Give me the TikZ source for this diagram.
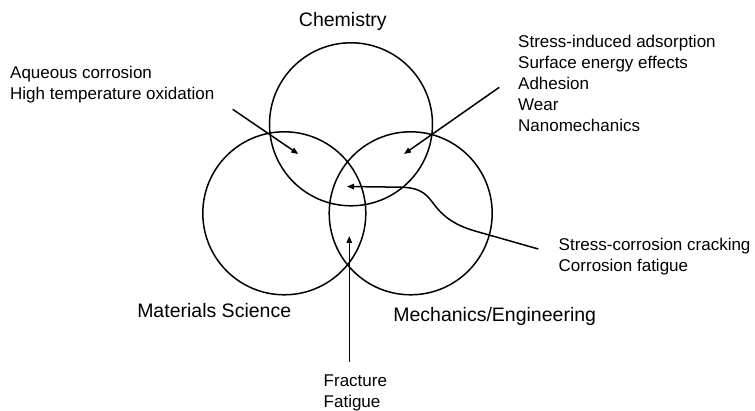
\documentclass[tikz,border=0pt]{standalone}
\usepackage{fontspec}
\setmainfont{Liberation Sans}
\usetikzlibrary{arrows.meta}
\begin{document}
\begin{tikzpicture}[x=1pt,y=-1pt,
  ring/.style={circle,draw,line width=1.5pt,inner sep=0pt,minimum size=163pt},
  pointer/.style={line width=1.5pt,-{Triangle[length=7pt,width=5.5pt]}},
  field/.style={inner sep=0pt,anchor=base,font=\fontsize{19.5}{23}\selectfont},
  note/.style={inner sep=0pt,anchor=base west,align=left,font=\fontsize{17}{21.2}\selectfont}]
\useasboundingbox (0,0) rectangle (755,411);
% circles
\node[ring] (chem) at (351,124.3) {};
\node[ring] (mat) at (284.3,213.3) {};
\node[ring] (mech) at (410.7,213.3) {};
% field titles
\node[field] (tchem) at (342.8,26.7) {Chemistry};
\node[field] (tmat) at (214.2,317.3) {Materials Science};
\node[field] (tmech) at (494.7,321.7) {Mechanics/Engineering};
% notes (anchored at the baseline of their last line)
\node[note] (nleft) at (10,99.6) {Aqueous corrosion\\High temperature oxidation};
\node[note] (nright) at (518,132) {Stress-induced adsorption\\Surface energy effects\\Adhesion\\Wear\\Nanomechanics};
\node[note] (nscc) at (558.5,271.9) {Stress-corrosion cracking\\Corrosion fatigue};
\node[note] (nfrac) at (323.5,407.5) {Fracture\\Fatigue};
% arrow end points
\coordinate (a1s) at (232.7,109.3);
\coordinate (a1e) at (298.3,154);
\coordinate (a2s) at (499.3,87.3);
\coordinate (a2e) at (404,154);
\coordinate (a3s) at (349.3,361.7);
\coordinate (a3e) at (349.3,236);
\coordinate (a4s) at (538.3,249);
\coordinate (a4e) at (347,186.5);
\draw[pointer] (a1s) -- (a1e);
\draw[pointer] (a2s) -- (a2e);
\draw[pointer] (a3s) -- (a3e);
\draw[pointer] (a4s) -- (475,231)
  .. controls (452,224.5) and (441,214) .. (433,203)
  .. controls (425,192) and (418,187.5) .. (400,187.2) -- (a4e);
\end{tikzpicture}
\end{document}
